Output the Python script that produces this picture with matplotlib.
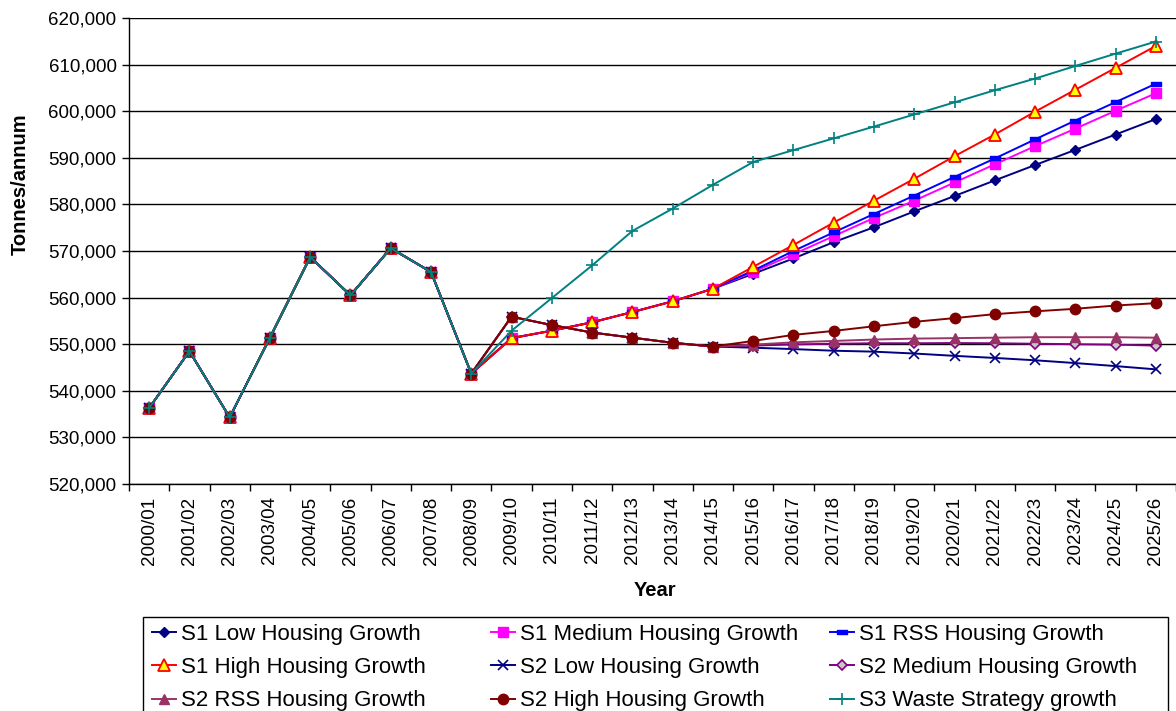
import matplotlib
matplotlib.use("Agg")
import matplotlib.pyplot as plt
from matplotlib.ticker import FuncFormatter, FixedLocator
from matplotlib.path import Path
from matplotlib.patches import Rectangle
import numpy as np

plt.rcParams['font.family'] = ['Liberation Sans', 'DejaVu Sans']

years = ["2000/01", "2001/02", "2002/03", "2003/04", "2004/05", "2005/06", "2006/07",
         "2007/08", "2008/09", "2009/10", "2010/11", "2011/12", "2012/13", "2013/14",
         "2014/15", "2015/16", "2016/17", "2017/18", "2018/19", "2019/20", "2020/21",
         "2021/22", "2022/23", "2023/24", "2024/25", "2025/26"]

historical = [536300, 548500, 534300, 551400, 568700, 560500, 570600, 565500, 543700]

s1_low = [551300, 552900, 554700, 556900, 559200, 561900, 565100, 568400, 571900, 575100,
          578500, 581800, 585150, 588450, 591700, 595000, 598300]
s1_medium = [551300, 552900, 554700, 556900, 559200, 561900, 565500, 569300, 573200, 577100,
             580800, 584700, 588600, 592500, 596250, 600100, 603850]
s1_rss = [551300, 552900, 554700, 556900, 559200, 561900, 565800, 570000, 574000, 577950,
          581900, 585900, 589850, 593950, 598000, 601950, 605900]
s1_high = [551300, 552900, 554700, 556900, 559200, 561900, 566600, 571300, 576100, 580800,
           585500, 590350, 595000, 599900, 604600, 609300, 614000]
s2_low = [555900, 554100, 552500, 551400, 550300, 549500, 549250, 548950, 548600, 548400,
          548000, 547500, 547050, 546550, 545950, 545300, 544600]
s2_medium = [555900, 554100, 552500, 551400, 550300, 549500, 549700, 549950, 550100, 550200,
             550200, 550250, 550200, 550100, 550000, 549900, 549700]
s2_rss = [555900, 554100, 552500, 551400, 550300, 549500, 549900, 550400, 550700, 551000,
          551200, 551300, 551400, 551500, 551500, 551500, 551400]
s2_high = [555900, 554100, 552500, 551400, 550300, 549500, 550700, 552000, 552850, 553850,
           554800, 555600, 556450, 557050, 557600, 558300, 558800]
s3_waste = [552900, 559900, 566900, 574300, 579100, 584200, 589100, 591650, 594170, 596700,
            599300, 601900, 604500, 607000, 609700, 612350, 614950]

labels = ["S1 Low Housing Growth", "S1 Medium Housing Growth", "S1 RSS Housing Growth",
          "S1 High Housing Growth", "S2 Low Housing Growth", "S2 Medium Housing Growth",
          "S2 RSS Housing Growth", "S2 High Housing Growth", "S3 Waste Strategy growth"]
projections = [s1_low, s1_medium, s1_rss, s1_high, s2_low, s2_medium, s2_rss, s2_high, s3_waste]

dash_marker = Path([(-1, -0.45), (1, -0.45), (1, 0.45), (-1, 0.45), (-1, -0.45)],
                   [Path.MOVETO, Path.LINETO, Path.LINETO, Path.LINETO, Path.CLOSEPOLY])

styles = [
    dict(color='#000080', marker='D', ms=5.5, mfc='#000080', mec='#000080'),
    dict(color='#FF00FF', marker='s', ms=7, mfc='#FF00FF', mec='#FF00FF'),
    dict(color='#0000FF', marker=dash_marker, ms=7, mfc='#0000FF', mec='#0000FF'),
    dict(color='#FF0000', marker='^', ms=8.5, mfc='#FFFF00', mec='#FF0000', mew=1.3),
    dict(color='#000080', marker='x', ms=7.5, mfc='#000080', mec='#000080', mew=1.2),
    dict(color='#800080', marker='D', ms=5.5, mfc='#C8C8C8', mec='#800080', mew=1.2),
    dict(color='#993366', marker='^', ms=7.5, mfc='#993366', mec='#993366'),
    dict(color='#800000', marker='o', ms=7.5, mfc='#800000', mec='#800000'),
    dict(color='#008080', marker='+', ms=9, mfc='#008080', mec='#008080', mew=1.2),
]

W, H = 1176, 711
fig = plt.figure(figsize=(W/100, H/100), dpi=100)
ax = fig.add_axes([129/W, 1-484/H, 1-129/W, (484-18)/H])

x = np.arange(len(years))
handles = []
for lab, proj, st in zip(labels, projections, styles):
    vals = historical + proj
    h, = ax.plot(x, vals, lw=1.4, label=lab, **st)
    handles.append(h)

ax.set_xlim(-0.5, len(years) - 0.5)
ax.set_ylim(520000, 620000)
ax.set_yticks(np.arange(520000, 620001, 10000))
ax.yaxis.set_major_formatter(FuncFormatter(lambda v, p: f"{int(v):,}"))
ax.grid(axis='y', color='black', lw=1)
ax.set_axisbelow(True)

ax.set_xticks(x)
ax.set_xticklabels(years, rotation=90)
ax.xaxis.set_minor_locator(FixedLocator(np.arange(-0.5, len(years), 1)))
ax.tick_params(axis='x', which='major', length=0, pad=9, labelsize=13.5)
ax.tick_params(axis='x', which='minor', length=5, direction='out', width=1)
ax.tick_params(axis='y', length=5, direction='out', width=1, labelsize=13.5, pad=4)

for s in ['top', 'right']:
    ax.spines[s].set_visible(False)
for s in ['left', 'bottom']:
    ax.spines[s].set_color('black')
    ax.spines[s].set_linewidth(1)

fig.text(655/W, 1-591/H, "Year", ha='center', va='center', fontsize=14.5, fontweight='bold')
fig.text(20/W, 1-184/H, "Tonnes/annum", ha='center', va='center', rotation=90,
         fontsize=14.5, fontweight='bold')

# legend: three equal-width columns inside one frame (row-wise order as in the reference)
col_x = [152, 491, 830]
for c in range(3):
    idx = [c, c + 3, c + 6]
    fig.legend([handles[i] for i in idx], [labels[i] for i in idx],
               loc='upper left', bbox_to_anchor=(col_x[c]/W, 1-624/H),
               frameon=False, fontsize=16, handlelength=1.1, handletextpad=0.2,
               labelspacing=0.55, borderpad=0, borderaxespad=0)
fig.add_artist(Rectangle((143/W, -0.05), (1168-143)/W, 0.05 + (H-617)/H,
                         transform=fig.transFigure, fill=False, edgecolor='black', lw=1))

fig.savefig("out.png", dpi=100)
